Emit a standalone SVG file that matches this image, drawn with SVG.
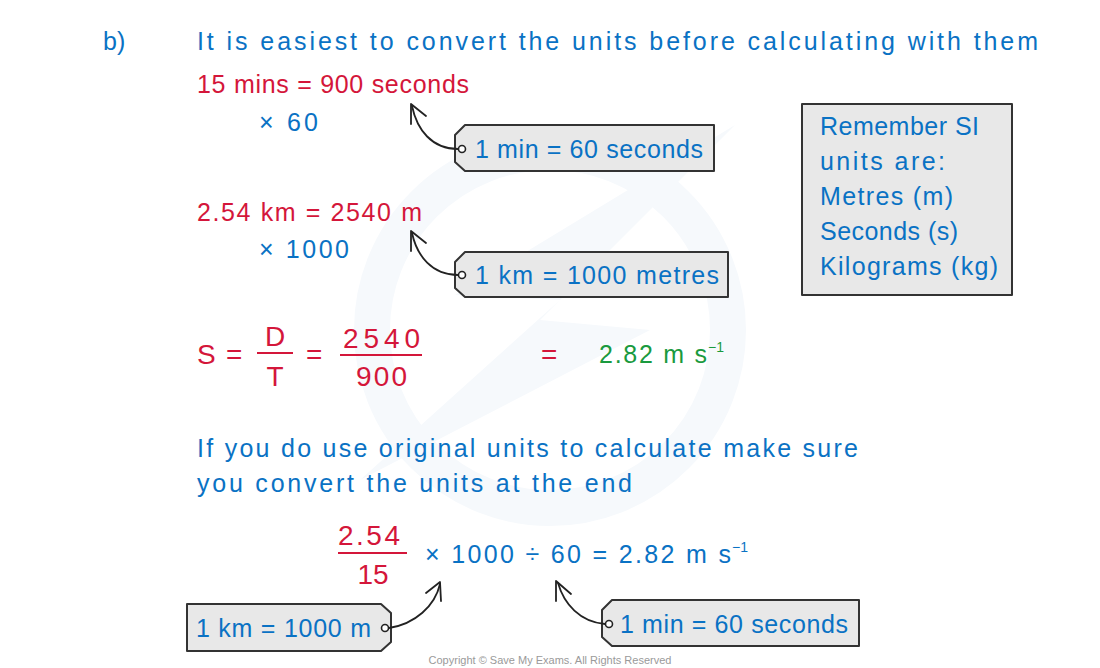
<svg xmlns="http://www.w3.org/2000/svg" width="1100" height="668" viewBox="0 0 1100 668">
<style>
text{font-family:"Liberation Sans","DejaVu Sans",sans-serif;font-size:25px}
.b{fill:#0a72c4}
.r{fill:#d4163a}
.g{fill:#1a9a3e}
.f{font-size:28px}
.sup{font-size:14px}
.tag{fill:#e8e8e8;stroke:#333;stroke-width:2;stroke-linejoin:round}
.hole{fill:#fff;stroke:#222;stroke-width:1.6}
.conn path,.conn polyline{fill:none;stroke:#222;stroke-width:1.8;stroke-linecap:round;stroke-linejoin:round}
.fl{stroke:#d4163a;stroke-width:2}
</style>
<rect width="1100" height="668" fill="#fff"/>
<g id="watermark">
<circle cx="550" cy="330" r="178" fill="none" stroke="#f6f9fc" stroke-width="36"/>
<polygon points="735,125 455,295 560,300 360,480 650,330 540,320" fill="#f6f9fc"/>
</g>
<g id="heading">
<text x="103" y="50" class="b">b)</text>
<text x="197" y="50" class="b" textLength="841" lengthAdjust="spacing">It is easiest to convert the units before calculating with them</text>
</g>
<g id="time">
<text x="197" y="93" class="r" textLength="272" lengthAdjust="spacing">15 mins = 900 seconds</text>
<text x="259" y="131" class="b" textLength="59" lengthAdjust="spacing">× 60</text>
</g>
<g id="distance">
<text x="197" y="221" class="r" textLength="225" lengthAdjust="spacing">2.54 km = 2540 m</text>
<text x="259" y="258" class="b" textLength="90" lengthAdjust="spacing">× 1000</text>
</g>
<g id="tag1">
<polygon class="tag" points="465,125 714,125 714,171 465,171 455,162 455,135"/>
<circle class="hole" cx="462" cy="149" r="3.5"/>
<text x="475" y="158" class="b" textLength="228" lengthAdjust="spacing">1 min = 60 seconds</text>
</g>
<g id="tag2">
<polygon class="tag" points="465,252 728,252 728,297 465,297 455,288 455,262"/>
<circle class="hole" cx="462" cy="275" r="3.5"/>
<text x="475" y="284" class="b" textLength="244" lengthAdjust="spacing">1 km = 1000 metres</text>
</g>
<g id="si-box">
<rect x="802" y="104" width="210" height="191" class="tag"/>
<text x="820" y="135" class="b" textLength="159" lengthAdjust="spacing">Remember SI</text>
<text x="820" y="170" class="b" textLength="125" lengthAdjust="spacing">units are:</text>
<text x="820" y="205" class="b" textLength="133" lengthAdjust="spacing">Metres (m)</text>
<text x="820" y="240" class="b" textLength="138" lengthAdjust="spacing">Seconds (s)</text>
<text x="820" y="275" class="b" textLength="178" lengthAdjust="spacing">Kilograms (kg)</text>
</g>
<g id="speed">
<text x="197" y="364" class="r f">S</text>
<text x="226" y="364" class="r f">=</text>
<text x="275" y="346" class="r f" text-anchor="middle">D</text>
<line x1="257" y1="353" x2="293" y2="353" class="fl"/>
<text x="275" y="386" class="r f" text-anchor="middle">T</text>
<text x="306" y="364" class="r f">=</text>
<text x="343" y="348" class="r f" textLength="77" lengthAdjust="spacing">2540</text>
<line x1="340" y1="355" x2="422" y2="355" class="fl"/>
<text x="356" y="386" class="r f" textLength="51" lengthAdjust="spacing">900</text>
<text x="541" y="364" class="r f">=</text>
<text x="599" y="363" class="g" textLength="108" lengthAdjust="spacing">2.82 m s</text>
<text x="708" y="352" class="g sup">−1</text>
</g>
<g id="note">
<text x="197" y="457" class="b" textLength="661" lengthAdjust="spacing">If you do use original units to calculate make sure</text>
<text x="197" y="492" class="b" textLength="435" lengthAdjust="spacing">you convert the units at the end</text>
</g>
<g id="calc">
<text x="338" y="545" class="r f" textLength="62" lengthAdjust="spacing">2.54</text>
<line x1="338" y1="553" x2="407" y2="553" class="fl"/>
<text x="373" y="584" class="r f" text-anchor="middle">15</text>
<text x="425" y="563" class="b" textLength="306" lengthAdjust="spacing">× 1000 ÷ 60 = 2.82 m s</text>
<text x="732" y="552" class="b sup">−1</text>
</g>
<g id="tag3">
<polygon class="tag" points="187,604 381,604 391,613 391,642 381,651 187,651"/>
<circle class="hole" cx="385" cy="628" r="3.5"/>
<text x="196" y="637" class="b" textLength="175" lengthAdjust="spacing">1 km = 1000 m</text>
</g>
<g id="tag4">
<polygon class="tag" points="612,600 859,600 859,646 612,646 602,637 602,610"/>
<circle class="hole" cx="609" cy="624" r="3.5"/>
<text x="620" y="633" class="b" textLength="228" lengthAdjust="spacing">1 min = 60 seconds</text>
</g>
<g id="connectors" class="conn">
<path d="M458,149 C432,149 417,130 412,106"/>
<polyline points="411,124 411,104 426,116"/>
<path d="M458,275 C432,275 417,256 412,233"/>
<polyline points="411,251 411,231 426,243"/>
<path d="M389,628 C415,624 435,606 440,584"/>
<polyline points="426,593 440,582 441,601"/>
<path d="M605,624 C580,622 564,604 558,583"/>
<polyline points="556,601 556,581 571,594"/>
</g>
<text x="550" y="664" text-anchor="middle" style="font-size:11px;fill:#9a9a9a">Copyright © Save My Exams. All Rights Reserved</text>
</svg>
